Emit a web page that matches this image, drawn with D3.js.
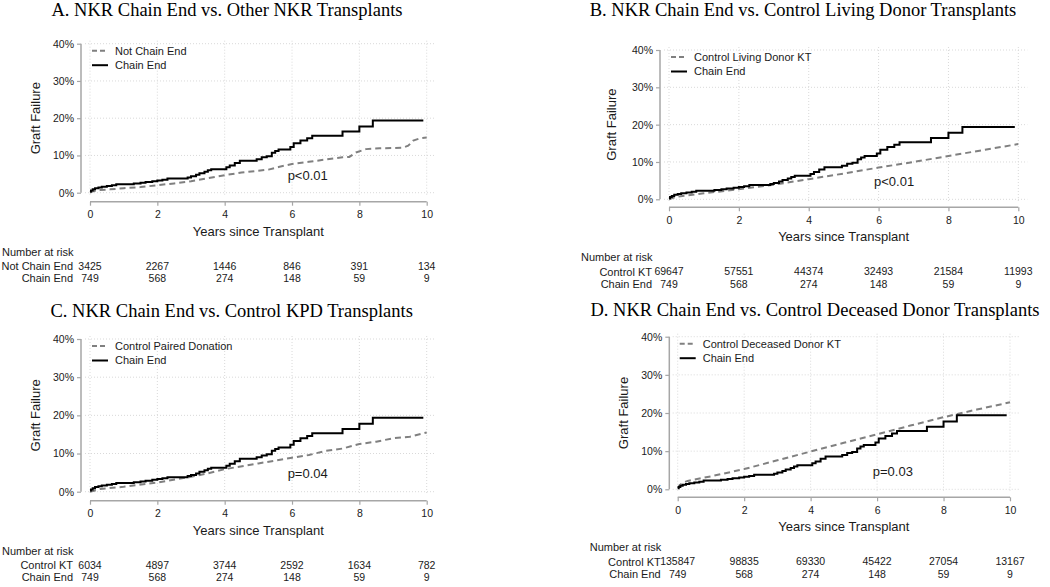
<!DOCTYPE html>
<html><head><meta charset="utf-8">
<script src="https://cdn.jsdelivr.net/npm/d3@7"></script>
<style>
body{margin:0;background:#fff;}
svg{display:block;font-family:"Liberation Sans",Arial,sans-serif;}
</style></head><body>
<svg id="chart" width="1050" height="587"></svg>
<script>
// ---------- data ----------
const xTicks = [0, 2, 4, 6, 8, 10];
const yTicks = [0, 10, 20, 30, 40];

// NKR chain end (Kaplan-Meier step function, % graft failure)
const chainEndTimes  = [0, 0.03, 0.08, 0.15, 0.25, 0.35, 0.5, 0.65, 0.78, 1.3, 1.5, 1.65, 1.85, 2.0, 2.15, 2.3, 2.9, 3.0, 3.15, 3.25, 3.4, 3.5, 3.6, 4.05, 4.15, 4.3, 4.45, 4.95, 5.1, 5.25, 5.4, 5.5, 5.6, 5.95, 6.05, 6.25, 6.45, 6.6, 7.5, 8.0, 8.4, 9.9];
const chainEndValues = [0.3, 0.6, 0.9, 1.2, 1.4, 1.6, 1.8, 2.0, 2.3, 2.5, 2.7, 2.9, 3.1, 3.3, 3.5, 3.8, 4.1, 4.4, 4.8, 5.2, 5.6, 6.0, 6.3, 6.8, 7.3, 8.0, 8.6, 9.0, 9.5, 9.8, 10.7, 11.2, 11.6, 12.3, 13.3, 14.0, 14.6, 15.3, 16.4, 17.8, 19.4, 19.4];

// Not chain end (other NKR)
const notChainEndTimes  = [0, 0.1, 0.3, 0.6, 1, 1.5, 2, 2.5, 3, 3.5, 4, 4.5, 5, 5.3, 5.6, 6, 6.5, 7, 7.5, 7.7, 7.9, 8.2, 8.6, 9.0, 9.3, 9.45, 9.6, 9.8, 10];
const notChainEndValues = [0, 0.4, 0.7, 0.9, 1.2, 1.5, 2.0, 2.5, 3.1, 3.9, 4.7, 5.4, 5.9, 6.2, 6.9, 7.7, 8.3, 8.9, 9.5, 9.6, 10.8, 11.7, 11.9, 12.0, 12.1, 12.6, 14.0, 14.6, 14.8];

// Control living donor KT
const livingTimes  = [0, 0.2, 0.5, 1, 2, 3, 4, 5, 6, 7, 8, 9, 10];
const livingValues = [0, 0.7, 1.0, 1.6, 2.7, 3.9, 5.4, 6.9, 8.5, 10.0, 11.6, 13.2, 14.8];

// Control paired donation (KPD)
const kpdTimes  = [0, 0.3, 1, 2, 3, 3.5, 4, 5, 6, 6.5, 7, 7.5, 8, 8.5, 9, 9.5, 10];
const kpdValues = [0, 0.7, 1.3, 2.4, 3.9, 4.8, 5.9, 7.4, 8.9, 9.6, 10.7, 11.3, 12.5, 13.1, 14.0, 14.4, 15.5];

// Control deceased donor KT
const deceasedTimes  = [0, 0.05, 0.15, 0.3, 1, 2, 3, 4, 5, 6, 7, 8, 9, 10];
const deceasedValues = [0.3, 1.0, 1.7, 2.2, 3.4, 5.3, 7.6, 9.9, 12.2, 14.4, 16.7, 18.9, 20.9, 22.8];

// Number at risk
const riskChainEnd      = [749, 568, 274, 148, 59, 9];
const riskNotChainEnd   = [3425, 2267, 1446, 846, 391, 134];
const riskLiving        = [69647, 57551, 44374, 32493, 21584, 11993];
const riskKPD           = [6034, 4897, 3744, 2592, 1634, 782];
const riskDeceased      = [135847, 98835, 69330, 45422, 27054, 13167];

const titles = [
  "A. NKR Chain End vs. Other NKR Transplants",
  "B. NKR Chain End vs. Control Living Donor Transplants",
  "C. NKR Chain End vs. Control KPD Transplants",
  "D. NKR Chain End vs. Control Deceased Donor Transplants"
];
const legendNames = ["Not Chain End", "Control Living Donor KT", "Control Paired Donation", "Control Deceased Donor KT"];
const riskLabels  = ["Not Chain End", "Control KT", "Control KT", "Control KT"];
const pValues     = ["p<0.01", "p<0.01", "p=0.04", "p=0.03"];
const chainLabel  = "Chain End";

const ctrlSeries = [
  [notChainEndTimes, notChainEndValues, riskNotChainEnd],
  [livingTimes, livingValues, riskLiving],
  [kpdTimes, kpdValues, riskKPD],
  [deceasedTimes, deceasedValues, riskDeceased]
];

// ---------- layout (pixels) ----------
const layouts = [
  {titleX: 227, titleY: 16,  x0: 90,    x1: 426.7, yB: 192.7, yT: 43.7,  axisX: 81,    axisY: 201.7, ylabX: 35},
  {titleX: 803, titleY: 16,  x0: 669,   x1: 1018.3, yB: 199.3, yT: 50,   axisX: 660,   axisY: 207.3, ylabX: 611},
  {titleX: 231.7, titleY: 316.5, x0: 90, x1: 426.7, yB: 491.7, yT: 339,  axisX: 81,    axisY: 500.7, ylabX: 35},
  {titleX: 815, titleY: 316, x0: 677.7, x1: 1010,  yB: 489.3, yT: 336.7, axisX: 669.3, axisY: 497.3, ylabX: 623.3}
];

const svg = d3.select("#chart");
const axisColor = "#a6a6a6";
const gridColor = "#d9d9d9";
const dashColor = "#808080";

layouts.forEach((L, i) => {
  const g = svg.append("g");
  const x = d3.scaleLinear().domain([0, 10]).range([L.x0, L.x1]);
  const y = d3.scaleLinear().domain([0, 40]).range([L.yB, L.yT]);

  // title
  g.append("text").attr("x", L.titleX).attr("y", L.titleY)
    .attr("text-anchor", "middle")
    .style("font-family", "'Liberation Serif','Times New Roman',serif")
    .style("font-size", "18.5px").attr("fill", "#000").text(titles[i]);

  // grid
  const gx0 = L.x0 - 5, gx1 = L.x1 + 9, gy0 = L.yT - 3, gy1 = L.yB + 3;
  g.selectAll(".hg").data(yTicks).enter().append("line")
    .attr("x1", gx0).attr("x2", gx1).attr("y1", d => y(d)).attr("y2", d => y(d))
    .attr("stroke", gridColor).attr("stroke-width", 1).attr("stroke-dasharray", "1,2");
  g.selectAll(".vg").data(xTicks).enter().append("line")
    .attr("y1", gy0).attr("y2", gy1).attr("x1", d => x(d)).attr("x2", d => x(d))
    .attr("stroke", gridColor).attr("stroke-width", 1).attr("stroke-dasharray", "1,2");

  // y axis
  const yAxis = d3.axisLeft(y).tickValues(yTicks).tickFormat(d => d + "%").tickSize(4).tickPadding(3);
  const ya = g.append("g").attr("transform", `translate(${L.axisX},0)`).call(yAxis);
  // x axis
  const xAxis = d3.axisBottom(x).tickValues(xTicks).tickFormat(d3.format("d")).tickSize(4).tickPadding(5);
  const xa = g.append("g").attr("transform", `translate(0,${L.axisY})`).call(xAxis);
  [ya, xa].forEach(a => {
    a.select(".domain").attr("stroke", axisColor).attr("stroke-width", 1.5)
      .attr("d", a === ya ? `M0,${y(40)}V${y(0)}` : `M${x(0)},0H${x(10)}`);
    a.selectAll(".tick line").attr("stroke", axisColor).attr("stroke-width", 1.2);
    a.selectAll(".tick text").attr("fill", "#1a1a1a")
      .style("font-family", "'Liberation Sans',Arial,sans-serif").style("font-size", "10.5px");
  });

  // axis titles
  g.append("text").attr("x", (L.x0 + L.x1) / 2).attr("y", L.axisY + 34)
    .attr("text-anchor", "middle").style("font-size", "13px").attr("fill", "#1a1a1a")
    .text("Years since Transplant");
  g.append("text").attr("transform", `translate(${L.ylabX},${y(20)}) rotate(-90)`)
    .attr("text-anchor", "middle").attr("dy", "0.35em").style("font-size", "13px").attr("fill", "#1a1a1a")
    .text("Graft Failure");

  // curves
  const [ct, cv, crisk] = ctrlSeries[i];
  const ctrlData = ct.map((t, k) => [t, cv[k]]);
  const chainData = chainEndTimes.map((t, k) => [t, chainEndValues[k]]);
  g.append("path").datum(ctrlData)
    .attr("d", d3.line().x(d => x(d[0])).y(d => y(d[1])).curve(d3.curveLinear))
    .attr("fill", "none").attr("stroke", dashColor).attr("stroke-width", 2)
    .attr("stroke-dasharray", "6,4");
  g.append("path").datum(chainData)
    .attr("d", d3.line().x(d => x(d[0])).y(d => y(d[1])).curve(d3.curveStepAfter))
    .attr("fill", "none").attr("stroke", "#000").attr("stroke-width", 2);

  // legend
  const lgY = [L.yT + 7, L.yT + 21.5];
  g.append("line").attr("x1", L.x0 + 2).attr("x2", L.x0 + 18).attr("y1", lgY[0]).attr("y2", lgY[0])
    .attr("stroke", dashColor).attr("stroke-width", 2).attr("stroke-dasharray", "5,3");
  g.append("line").attr("x1", L.x0 + 2).attr("x2", L.x0 + 18).attr("y1", lgY[1]).attr("y2", lgY[1])
    .attr("stroke", "#000").attr("stroke-width", 2);
  [legendNames[i], chainLabel].forEach((t, k) => {
    g.append("text").attr("x", L.x0 + 25).attr("y", lgY[k]).attr("dy", "0.35em")
      .style("font-size", "11px").attr("fill", "#1a1a1a").text(t);
  });

  // p value
  g.append("text").attr("x", x(5.87)).attr("y", y(4.7)).attr("dy", "0.35em")
    .style("font-size", "13px").attr("fill", "#1a1a1a").text(pValues[i]);

  // number at risk
  g.append("text").attr("x", L.x0 - 88).attr("y", L.axisY + 50).attr("dy", "0.35em")
    .style("font-size", "11px").attr("fill", "#1a1a1a").text("Number at risk");
  const rows = [[riskLabels[i], crisk], [chainLabel, riskChainEnd]];
  rows.forEach((r, k) => {
    const ry = L.axisY + 64.5 + k * 12.3;
    g.append("text").attr("x", L.x0 - 17).attr("y", ry).attr("dy", "0.35em")
      .attr("text-anchor", "end").style("font-size", "11px").attr("fill", "#1a1a1a").text(r[0]);
    g.selectAll(null).data(r[1]).enter().append("text")
      .attr("x", (d, j) => x(xTicks[j])).attr("y", ry).attr("dy", "0.35em")
      .attr("text-anchor", "middle").style("font-size", "10.5px").attr("fill", "#1a1a1a")
      .text(d => d);
  });
});
</script>
</body></html>
